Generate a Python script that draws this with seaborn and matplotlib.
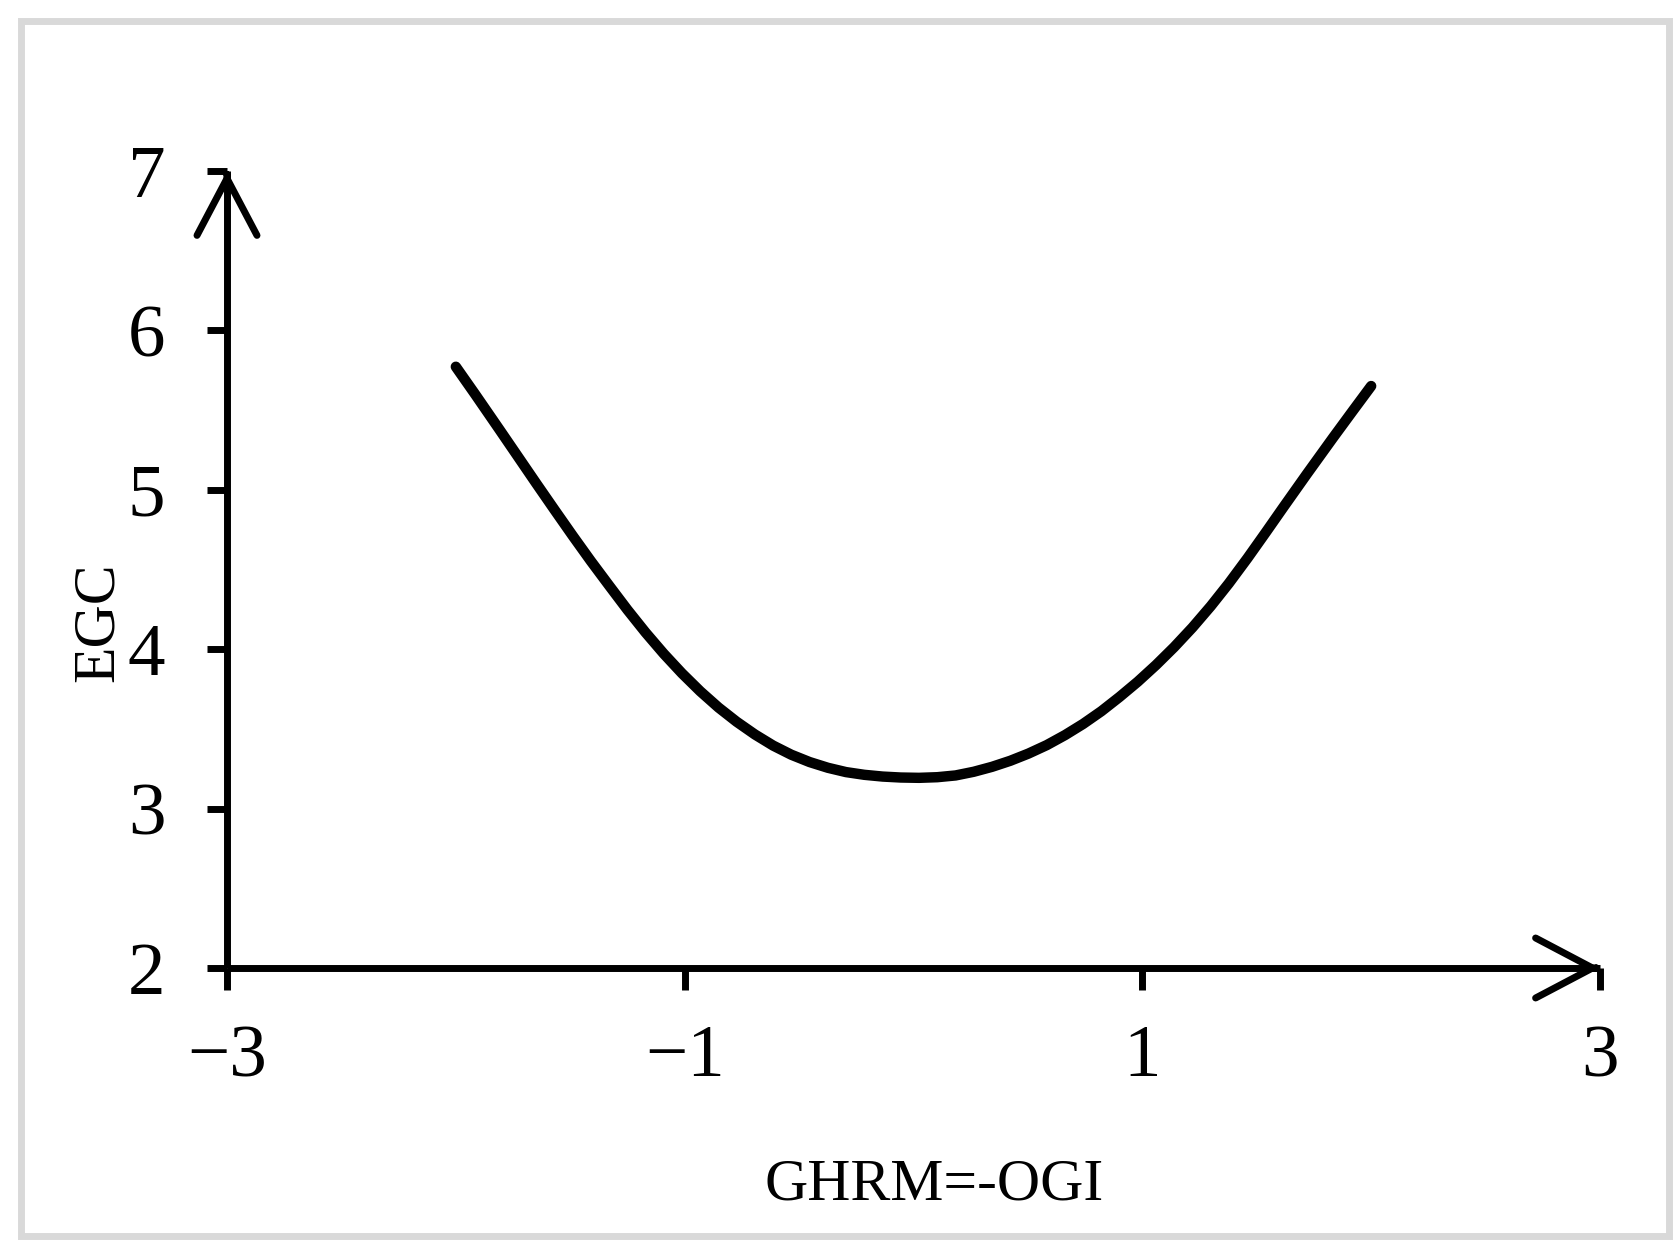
import numpy as np
import pandas as pd
import matplotlib
matplotlib.use("Agg")
import matplotlib.pyplot as plt
from matplotlib.patches import Rectangle
import seaborn as sns

# ---- data ----
x_vals = [-2.000, -1.915, -1.808, -1.728, -1.649, -1.569, -1.489, -1.410, -1.330,
          -1.250, -1.171, -1.091, -1.012, -0.932, -0.852, -0.773, -0.693, -0.613,
          -0.534, -0.454, -0.374, -0.295, -0.215, -0.135, -0.056, 0.024, 0.104,
          0.184, 0.263, 0.343, 0.423, 0.502, 0.582, 0.662, 0.741, 0.821, 0.900,
          0.980, 1.060, 1.139, 1.219, 1.299, 1.378, 1.460, 1.540, 1.615, 1.720,
          1.833, 1.920, 2.000]
y_vals = [5.772, 5.598, 5.375, 5.207, 5.041, 4.875, 4.711, 4.553, 4.399,
          4.247, 4.105, 3.971, 3.849, 3.736, 3.634, 3.545, 3.465, 3.395,
          3.338, 3.292, 3.256, 3.229, 3.212, 3.201, 3.195, 3.193, 3.197,
          3.208, 3.231, 3.262, 3.300, 3.345, 3.398, 3.461, 3.531, 3.611, 3.700,
          3.796, 3.901, 4.013, 4.136, 4.270, 4.413, 4.572, 4.734, 4.888, 5.101,
          5.326, 5.496, 5.651]
x_ticks = [-3, -1, 1, 3]
x_tick_labels = ["\u22123", "\u22121", "1", "3"]
y_ticks = [2, 3, 4, 5, 6, 7]
y_tick_labels = ["2", "3", "4", "5", "6", "7"]
x_label = "GHRM=-OGI"
y_label = "EGC"

df = pd.DataFrame({"x": x_vals, "y": y_vals})

sns.set_theme(style="white")
plt.rcParams["font.family"] = ["Liberation Serif", "DejaVu Serif"]

label_kw = dict(family="Liberation Serif", fontsize=43)

W, H = 1681, 1254
fig = plt.figure(figsize=(W / 100, H / 100), dpi=100)
ax = fig.add_axes([227 / W, 1 - 968 / H, (1600 - 227) / W, (968 - 171) / H])

sns.lineplot(data=df, x="x", y="y", ax=ax, color="black", linewidth=7.5,
             solid_capstyle="round", solid_joinstyle="round", sort=False)

ax.set_xlim(-3, 3)
ax.set_ylim(2, 7)
for s in ["top", "right"]:
    ax.spines[s].set_visible(False)
for s in ["left", "bottom"]:
    ax.spines[s].set_linewidth(5)
    ax.spines[s].set_color("black")
    ax.spines[s].set_capstyle("butt")

ax.set_xticks(x_ticks)
ax.set_xticklabels(x_tick_labels)
ax.set_yticks(y_ticks)
ax.set_yticklabels(y_tick_labels)
ax.tick_params(axis="x", direction="out", length=16, width=5, color="black",
               labelsize=54, pad=25, bottom=True)
ax.tick_params(axis="y", direction="out", length=14.5, width=5, color="black",
               labelsize=54, pad=30, left=True)
for lab in ax.get_xticklabels() + ax.get_yticklabels():
    lab.set_family("Liberation Serif")
    lab.set_color("black")

ax.set_xlabel(x_label, color="black", **label_kw)
ax.set_ylabel(y_label, color="black", **label_kw)
ax.xaxis.label.set_va("baseline")
ax.xaxis.set_label_coords((934 - 227) / 1373, (968 - 1200) / 797)
ax.yaxis.label.set_va("baseline")
ax.yaxis.set_label_coords((113 - 227) / 1373, (968 - 622) / 797)

# axis arrows (open heads)
arrow_style = "->,head_length=4.1,head_width=2.16"
arrow_kw = dict(arrowstyle=arrow_style, lw=5, color="black",
                shrinkA=0, shrinkB=0, mutation_scale=10, capstyle="round")
ax.annotate("", xy=(0, 1), xycoords="axes fraction", xytext=(0, 0.995),
            textcoords="axes fraction", arrowprops=arrow_kw)
ax.annotate("", xy=(1, 0), xycoords="axes fraction", xytext=(0.997, 0),
            textcoords="axes fraction", arrowprops=arrow_kw)

# light grey frame around the whole picture
fig.patches.append(Rectangle((21 / W, 1 - 1236 / H), (1669 - 21) / W, (1236 - 20.5) / H,
                             transform=fig.transFigure, fill=False,
                             edgecolor="#d9d9d9", linewidth=5))

fig.savefig("out.png", dpi=100, facecolor="white")
